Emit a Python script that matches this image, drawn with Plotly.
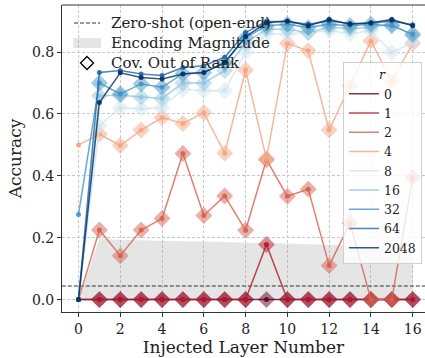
import plotly.graph_objects as go

# Injected layer index (x axis)
layers = [0, 1, 2, 3, 4, 5, 6, 7, 8, 9, 10, 11, 12, 13, 14, 15, 16]

# Accuracy per injected layer for each rank r
acc_r0 = [0, 0, 0, 0, 0, 0, 0, 0, 0, 0, 0, 0, 0, 0, 0, 0, 0]
acc_r1 = [0, 0, 0, 0, 0, 0, 0, 0, 0, 0.178, 0, 0, 0, 0, 0, 0, 0]
acc_r2 = [0, 0.225, 0.142, 0.225, 0.262, 0.472, 0.272, 0.335, 0.224, 0.452,
          0.334, 0.357, 0.110, 0.247, 0, 0, 0.395]
acc_r4 = [0.500, 0.535, 0.498, 0.548, 0.588, 0.569, 0.604, 0.473, 0.742, 0.455,
          0.828, 0.804, 0.548, 0.690, 0.836, 0.704, 0.828]
acc_r8 = [0, 0.562, 0.620, 0.617, 0.620, 0.680, 0.675, 0.675, 0.799, 0.858,
          0.858, 0.863, 0.869, 0.860, 0.869, 0.799, 0.831]
acc_r16 = [0, 0.659, 0.660, 0.654, 0.650, 0.700, 0.700, 0.740, 0.830, 0.874,
           0.874, 0.863, 0.880, 0.875, 0.880, 0.890, 0.853]
acc_r32 = [0.275, 0.700, 0.665, 0.697, 0.686, 0.730, 0.734, 0.766, 0.847, 0.885,
           0.890, 0.879, 0.890, 0.885, 0.890, 0.885, 0.858]
acc_r64 = [0, 0.734, 0.740, 0.729, 0.724, 0.750, 0.756, 0.783, 0.863, 0.899,
           0.899, 0.890, 0.900, 0.892, 0.893, 0.900, 0.888]
acc_r2048 = [0, 0.637, 0.733, 0.718, 0.713, 0.729, 0.734, 0.766, 0.850, 0.895,
             0.900, 0.885, 0.905, 0.890, 0.895, 0.905, 0.885]

# Layers where the covariance is out of rank (diamond markers)
oor_r0 = [1, 2, 3, 4, 5, 6, 7, 8, 9, 10, 11, 12, 13, 14, 15, 16]
oor_r1 = [1, 2, 3, 4, 5, 6, 7, 8, 9, 10, 11, 12, 13, 14, 15, 16]
oor_r2 = [1, 2, 3, 4, 5, 6, 7, 8, 9, 10, 11, 12, 13, 14, 15, 16]
oor_r4 = [1, 2, 3, 4, 5, 6, 7, 8, 9, 10, 11, 12, 13, 14, 15, 16]
oor_r8 = [1, 2, 3, 4, 5, 6, 7, 8, 9, 10, 11, 12, 13, 14, 15, 16]
oor_r16 = [1, 2, 3, 4, 5, 6, 7, 8, 9, 10, 11, 12, 13, 14, 15, 16]
oor_r32 = [1, 2, 3, 4, 5, 6, 7, 8, 9, 10, 11, 12, 13, 14, 15, 16]
oor_r64 = []
oor_r2048 = []

# Encoding magnitude (shaded band) and zero-shot baseline
enc_magnitude = [0, 0.197, 0.193, 0.192, 0.190, 0.189, 0.188, 0.186, 0.184,
                 0.183, 0.181, 0.179, 0.177, 0.175, 0.172, 0.169, 0.166]
zero_shot = 0.044

rank_labels = ["0", "1", "2", "4", "8", "16", "32", "64", "2048"]
rank_acc = [acc_r0, acc_r1, acc_r2, acc_r4, acc_r8, acc_r16, acc_r32, acc_r64, acc_r2048]
rank_oor = [oor_r0, oor_r1, oor_r2, oor_r4, oor_r8, oor_r16, oor_r32, oor_r64, oor_r2048]
rank_colors = ["103,0,31", "178,24,43", "214,96,77", "244,165,130",
               "209,229,240", "146,197,222", "67,147,195", "33,102,172", "5,48,97"]

key_labels = ["Zero-shot (open-end)", "Encoding Magnitude", "Cov. Out of Rank"]

W, H = 425, 358
ML, MR, MT, MB = 62, 0, 5, 46
XRANGE = [-0.79, 16.59]
YRANGE = [-0.040, 0.952]
SERIF = "DejaVu Serif"
GRAY_FILL = "rgba(150,150,150,0.25)"


def px(xp):
    return (xp - ML) / (W - ML - MR)


def py(yp):
    return (H - MB - yp) / (H - MT - MB)


fig = go.Figure()

# shaded encoding magnitude
fig.add_trace(go.Scatter(
    x=layers, y=enc_magnitude, mode="none", fill="tozeroy",
    fillcolor=GRAY_FILL, showlegend=False, hoverinfo="skip"))

# zero-shot baseline across the axis
fig.add_trace(go.Scatter(
    x=[-0.8, 16.8], y=[zero_shot, zero_shot], mode="lines",
    line=dict(color="#333333", width=1.1, dash="4px,2px"),
    showlegend=False, hoverinfo="skip"))

for lab, acc, oor, col in zip(rank_labels, rank_acc, rank_oor, rank_colors):
    fig.add_trace(go.Scatter(
        x=layers, y=acc, mode="lines+markers",
        line=dict(color=f"rgba({col},0.8)", width=1.5),
        marker=dict(size=5, color=f"rgba({col},0.9)"),
        showlegend=False, hoverinfo="skip"))
    if oor:
        fig.add_trace(go.Scatter(
            x=oor, y=[acc[i] for i in oor], mode="markers",
            marker=dict(symbol="diamond", size=13, color=f"rgba({col},0.5)",
                        line=dict(width=0)),
            showlegend=False, hoverinfo="skip"))

# rank legend entries
for lab, col in zip(rank_labels, rank_colors):
    fig.add_trace(go.Scatter(
        x=[None], y=[None], mode="lines",
        line=dict(color=f"rgba({col},0.8)", width=1.5),
        name=lab, legend="legend", showlegend=True))

# upper-left key: symbols drawn as shapes, labels as annotations
key_y = [23, 43, 63]
shapes = [
    dict(type="line", xref="paper", yref="paper", x0=0, x1=1, y0=1, y1=1,
         line=dict(color="#333333", width=1)),
    dict(type="line", xref="paper", yref="paper",
         x0=px(74), x1=px(100), y0=py(key_y[0]), y1=py(key_y[0]),
         line=dict(color="#333333", width=1.1, dash="4px,2px")),
    dict(type="rect", xref="paper", yref="paper",
         x0=px(73), x1=px(101), y0=py(key_y[1] - 5), y1=py(key_y[1] + 5),
         fillcolor=GRAY_FILL, line=dict(width=0)),
    dict(type="path", xref="paper", yref="paper",
         path=(f"M {px(87)},{py(key_y[2] - 6.5)} L {px(93.5)},{py(key_y[2])} "
               f"L {px(87)},{py(key_y[2] + 6.5)} L {px(80.5)},{py(key_y[2])} Z"),
         fillcolor="rgba(0,0,0,0)", line=dict(color="black", width=1.3)),
]
annotations = [
    dict(text=t, xref="paper", yref="paper", x=px(109), y=py(yy),
         xanchor="left", yanchor="middle", showarrow=False,
         font=dict(family=SERIF, size=15, color="#222222"))
    for t, yy in zip(key_labels, key_y)
]

fig.update_layout(
    width=W, height=H,
    margin=dict(l=ML, r=MR, t=MT, b=MB),
    paper_bgcolor="white", plot_bgcolor="white",
    font=dict(family=SERIF, size=12, color="#222222"),
    legend=dict(
        x=0.774, y=0.815, xanchor="left", yanchor="top",
        bgcolor="rgba(255,255,255,0.8)", bordercolor="#d0d0d0", borderwidth=1,
        font=dict(family=SERIF, size=12.5, color="#222222"),
        title=dict(text="<i>r</i>", side="top center",
                   font=dict(family=SERIF, size=12.5)),
        tracegroupgap=0, itemwidth=30),
    xaxis=dict(
        range=XRANGE, tickmode="array", tickvals=[0, 2, 4, 6, 8, 10, 12, 14, 16],
        ticks="outside", ticklen=4, tickcolor="#333333",
        showline=True, linecolor="#333333", linewidth=1,
        showgrid=True, gridcolor="#c8c8c8", gridwidth=0.8, griddash="3px,2px",
        zeroline=False, tickfont=dict(family=SERIF, size=14),
        title=dict(text="Injected Layer Number", font=dict(family=SERIF, size=17),
                   standoff=4)),
    yaxis=dict(
        range=YRANGE, tickmode="array", tickvals=[0, 0.2, 0.4, 0.6, 0.8],
        ticktext=["0.0", "0.2", "0.4", "0.6", "0.8"],
        ticks="outside", ticklen=4, tickcolor="#333333",
        showline=True, linecolor="#333333", linewidth=1,
        showgrid=True, gridcolor="#c8c8c8", gridwidth=0.8, griddash="3px,2px",
        zeroline=False, tickfont=dict(family=SERIF, size=14),
        title=dict(text="Accuracy", font=dict(family=SERIF, size=17), standoff=5)),
    shapes=shapes,
    annotations=annotations,
)

fig.write_html("out.html")
